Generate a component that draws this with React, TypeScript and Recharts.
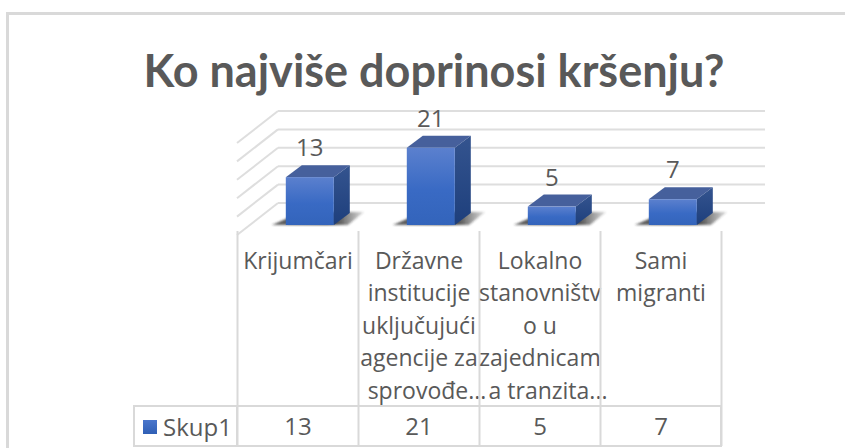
import React from 'react';
import { BarChart, Bar, XAxis, YAxis, CartesianGrid, Legend, LabelList } from 'recharts';

const categories = ['Krijumčari', 'Državne institucije uključujući agencije za sprovođe...', 'Lokalno stanovništvo u zajednicama tranzita...', 'Sami migranti'];
const categoryLines = [
  ['Krijumčari'],
  ['Državne', 'institucije', 'uključujući', 'agencije za', 'sprovođe...'],
  ['Lokalno', 'stanovništv', 'o u', 'zajednicam', 'a tranzita...'],
  ['Sami', 'migranti'],
];
const values = [13, 21, 5, 7];
const yTicks = [0, 5, 10, 15, 20, 25];
const seriesName = 'Skup1';
const title = 'Ko najviše doprinosi kršenju?';

const data = categories.map((name, i) => ({ name, value: values[i] }));

const FONT = '"Open Sans", sans-serif';
const GRID = '#d9d9d9';
const TEXT = '#595959';

// back wall line plus the diagonal down the side wall
function WallLine({ y1 }: any) {
  return (
    <g>
      <line x1={278} x2={765} y1={y1 - 22} y2={y1 - 22} stroke="#dedede" strokeWidth={2} />
      <line x1={237} x2={278} y1={y1 + 10} y2={y1 - 22} stroke="#dedede" strokeWidth={2} />
    </g>
  );
}

// category cell with its table column, value underneath
function TableTick({ x, y, index, payload }: any) {
  const cx = x - 12;
  const left = cx - 60.5;
  const right = cx + 60.5;
  const top = y - 2;
  const lines = categoryLines[index] || [payload.value];
  return (
    <g>
      <line x1={left} x2={left} y1={top} y2={446} stroke={GRID} strokeWidth={2} />
      {index === values.length - 1 && <line x1={right} x2={right} y1={top} y2={446} stroke={GRID} strokeWidth={2} />}
      {lines.map((t: string, i: number) => (
        <text key={i} x={t.endsWith('...') ? cx + 8 : cx} y={top + 38 + i * 32.4} textAnchor="middle" fontSize={23} fontFamily={FONT} fill={TEXT}>{t}</text>
      ))}
      <text x={cx} y={435} textAnchor="middle" fontSize={24} fontFamily={FONT} fill={TEXT}>{values[index]}</text>
    </g>
  );
}

// box with front, top, side and a floor shadow
function Box3D({ x, y, width, height }: any) {
  const dx = 16;
  const dy = 12;
  const b = y + height;
  const r = x + width;
  return (
    <g>
      <polygon points={`${x - 14},${b} ${x + dx},${b - dy - 1} ${r + dx + 14},${b - dy - 1} ${r + 14},${b}`} fill="url(#shadowFill)" filter="url(#soft)" />
      <polygon points={`${x},${y} ${x + dx},${y - dy} ${r + dx},${y - dy} ${r},${y}`} fill="#46609c" />
      <polygon points={`${r},${y} ${r + dx},${y - dy} ${r + dx},${b - dy} ${r},${b}`} fill="url(#sideFill)" />
      <rect x={x} y={y} width={width} height={height} fill="url(#frontFill)" />
    </g>
  );
}

function LegendKey() {
  return (
    <div style={{ display: 'flex', alignItems: 'center', fontFamily: FONT, fontSize: 24, color: TEXT }}>
      <span style={{ width: 14, height: 14, marginRight: 6, background: 'linear-gradient(#4a76cc, #2f5fb5)' }} />
      {seriesName}
    </div>
  );
}

export default function App() {
  return (
    <div style={{ position: 'absolute', left: 0, top: 0, width: 845, height: 448, background: '#fff', overflow: 'hidden' }}>
      <div style={{ position: 'absolute', left: 6, top: 12, width: 839, height: 436, borderTop: `3px solid ${GRID}`, borderLeft: `3px solid ${GRID}`, boxSizing: 'border-box' }} />
      <div style={{ position: 'absolute', left: 0, top: 43, width: 868, textAlign: 'center', fontFamily: 'Lato, sans-serif', fontWeight: 700, fontSize: 45, color: TEXT, whiteSpace: 'nowrap' }}>{title}</div>
      <div style={{ position: 'absolute', left: 133, top: 405, width: 589, height: 42, border: `2px solid ${GRID}`, boxSizing: 'border-box' }} />
      <div style={{ position: 'absolute', left: 133, top: 405, width: 105, height: 42, borderRight: `2px solid ${GRID}`, boxSizing: 'border-box' }} />
      <BarChart
        width={845}
        height={448}
        data={data}
        barCategoryGap="30%"
        margin={{ top: 133, right: 111.5, bottom: 222, left: 248.5 }}
        style={{ position: 'absolute', left: 0, top: 0 }}
      >
        <defs>
          <linearGradient id="frontFill" x1="0" y1="0" x2="0" y2="1">
            <stop offset="0" stopColor="#5b80ce" />
            <stop offset="0.55" stopColor="#396ac4" />
            <stop offset="1" stopColor="#3364bb" />
          </linearGradient>
          <linearGradient id="sideFill" x1="0" y1="0" x2="0" y2="1">
            <stop offset="0" stopColor="#34548f" />
            <stop offset="1" stopColor="#1e3f7c" />
          </linearGradient>
          <linearGradient id="shadowFill" x1="0" y1="0" x2="1" y2="0">
            <stop offset="0" stopColor="#333" stopOpacity="0.7" />
            <stop offset="0.6" stopColor="#111" stopOpacity="1" />
            <stop offset="1" stopColor="#444" stopOpacity="0.2" />
          </linearGradient>
          <filter id="soft"><feGaussianBlur stdDeviation="0.8" /></filter>
        </defs>
        <CartesianGrid vertical={false} horizontal={<WallLine />} />
        <YAxis domain={[0, 25]} ticks={yTicks} interval={0} width={1} axisLine={false} tickLine={false} tick={() => <g />} />
        <XAxis dataKey="name" height={1} interval={0} axisLine={false} tickLine={false} tick={<TableTick />} />
        <Legend
          layout="horizontal"
          align="center"
          verticalAlign="middle"
          content={<LegendKey />}
          wrapperStyle={{ left: 143, top: 410, width: 95, height: 30 }}
        />
        <Bar dataKey="value" name={seriesName} shape={<Box3D />} isAnimationActive={false}>
          <LabelList dataKey="value" position="top" offset={21} fontSize={24} fontFamily={FONT} fill={TEXT} />
        </Bar>
      </BarChart>
    </div>
  );
}
